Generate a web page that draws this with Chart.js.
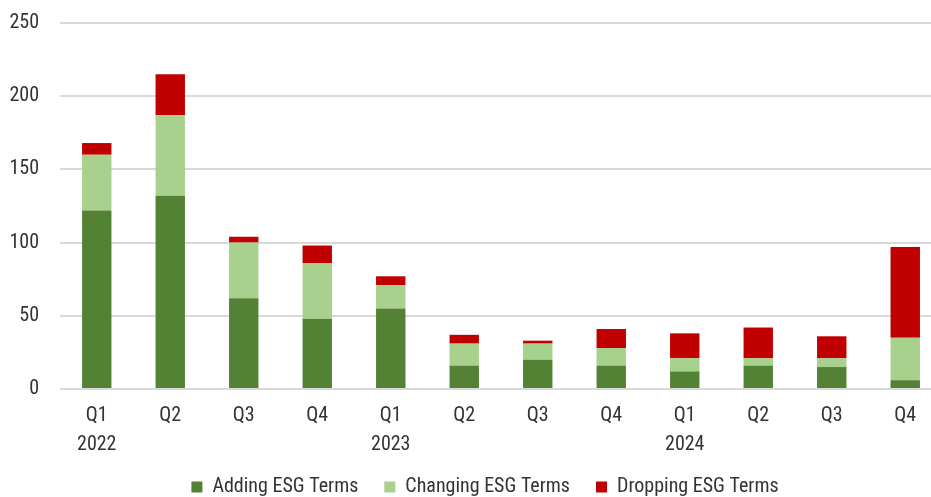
<!DOCTYPE html>
<html>
<head>
<meta charset="utf-8">
<script src="https://cdn.jsdelivr.net/npm/chart.js@4"></script>
<style>
  html, body { margin: 0; padding: 0; background: #fff; overflow: hidden; }
  #wrap { width: 970px; height: 497px; }
</style>
</head>
<body>
<div id="wrap"><canvas id="chartEsg"></canvas></div>
<script>
// Quarterly fund name changes, 2022 - 2024
const quarters = ['Q1', 'Q2', 'Q3', 'Q4', 'Q1', 'Q2', 'Q3', 'Q4', 'Q1', 'Q2', 'Q3', 'Q4'];
const years = ['2022', '', '', '', '2023', '', '', '', '2024', '', '', ''];
const adding = [122, 132, 62, 48, 55, 16, 20, 16, 12, 16, 15, 6];
const changing = [38, 55, 38, 38, 16, 15, 11, 12, 9, 5, 6, 29];
const dropping = [8, 28, 4, 12, 6, 6, 2, 13, 17, 21, 15, 62];
const yTicks = [0, 50, 100, 150, 200, 250];

const labels = quarters.map((q, i) => years[i] ? [q, years[i]] : q);
const font = "'Liberation Sans Narrow', 'Roboto Condensed', 'DejaVu Sans Condensed', sans-serif";
Chart.defaults.font.family = font;
Chart.defaults.color = '#333333';

const legendFit = {
    id: 'legendFit',
    beforeInit(chart) {
        const orig = chart.legend.fit;
        chart.legend.fit = function () {
            orig.bind(chart.legend)();
            this.height = 46;
        };
    }
};

const ctx = document.getElementById('chartEsg').getContext('2d');
new Chart(ctx, {
    type: 'bar',
    data: {
        labels: labels,
        datasets: [
            { label: 'Adding ESG Terms', data: adding, backgroundColor: '#548235' },
            { label: 'Changing ESG Terms', data: changing, backgroundColor: '#a9d18e' },
            { label: 'Dropping ESG Terms', data: dropping, backgroundColor: '#c00000' }
        ]
    },
    options: {
        responsive: true,
        maintainAspectRatio: false,
        animation: false,
        barPercentage: 0.4,
        categoryPercentage: 1,
        layout: { padding: { top: 23, left: 0, right: 0, bottom: 0 } },
        plugins: {
            legend: {
                position: 'bottom',
                labels: { boxWidth: 11, boxHeight: 11, padding: 26, font: { size: 20 }, color: '#333333' }
            },
            tooltip: { enabled: false }
        },
        scales: {
            x: {
                stacked: true,
                grid: { display: false, drawTicks: false },
                border: { display: false },
                ticks: { font: { size: 20, lineHeight: 1.45 }, padding: 12, maxRotation: 0, autoSkip: false },
                afterFit: s => { s.height = 62; s.paddingLeft = 0; s.paddingRight = 0; }
            },
            y: {
                stacked: true,
                min: 0,
                max: 250,
                afterBuildTicks: s => { s.ticks = yTicks.map(v => ({ value: v })); },
                grid: { color: '#d9d9d9', lineWidth: 2, drawTicks: false },
                border: { display: false },
                ticks: { font: { size: 20 }, padding: 21 },
                afterFit: s => { s.width = 60; s.paddingTop = 0; s.paddingBottom = 0; }
            },
            yRight: {
                position: 'right',
                display: true,
                grid: { display: false, drawTicks: false },
                border: { display: false },
                ticks: { display: false },
                afterFit: s => { s.width = 28; s.paddingTop = 0; s.paddingBottom = 0; }
            }
        }
    },
    plugins: [legendFit]
});
</script>
</body>
</html>
